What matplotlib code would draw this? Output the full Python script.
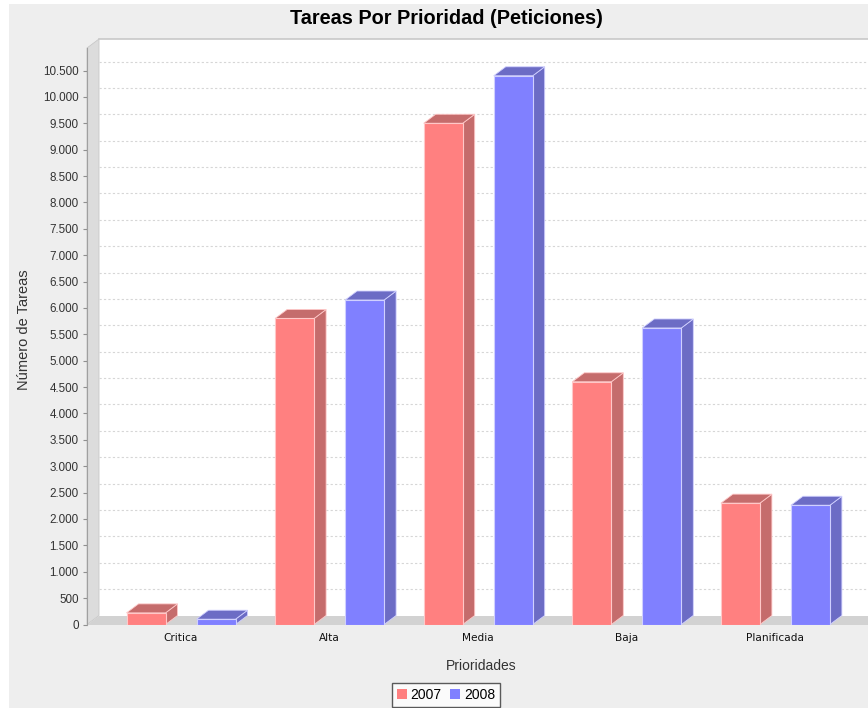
import matplotlib
matplotlib.use("Agg")
import matplotlib.pyplot as plt
from matplotlib.patches import Rectangle, Polygon, Patch
from matplotlib.ticker import FuncFormatter, MultipleLocator

# ---- data ----
categories = ["Critica", "Alta", "Media", "Baja", "Planificada"]
series_names = ["2007", "2008"]
values_2007 = [220, 5800, 9500, 4600, 2300]
values_2008 = [100, 6150, 10400, 5620, 2260]

title = "Tareas Por Prioridad (Peticiones)"
xlabel = "Prioridades"
ylabel = "Número de Tareas"

# ---- styling ----
W, H = 868, 708
DPI = 100
front_colors = ["#FF8080", "#8080FF"]
side_colors = ["#C56C6C", "#6C6CC5"]
edge_colors = ["#FFC8C8", "#D0D0FF"]

fig = plt.figure(figsize=(W / DPI, H / DPI), dpi=DPI, facecolor="white")
# grey chart background
fig.patches.append(Rectangle((9 / W, 0), 1, 1 - 4 / H, transform=fig.transFigure,
                             facecolor="#EEEEEE", edgecolor="none", zorder=-10))

ax_left_px, ax_bottom_px, ax_top_px = 87, 624.5, 48
ax = fig.add_axes([ax_left_px / W, (H - ax_bottom_px) / H,
                   (W - ax_left_px) / W, (ax_bottom_px - ax_top_px) / H])
ax.set_facecolor("none")

ppu = 554 / 10500.0          # pixels per value unit
cat_px = 148.6                # pixels per category
ymax = (ax_bottom_px - ax_top_px) / ppu
x0 = -94 / cat_px
x1 = x0 + (W - ax_left_px) / cat_px
ax.set_xlim(x0, x1)
ax.set_ylim(0, ymax)

dx = 12 / cat_px
dy = 9 / ppu

# back wall
ax.add_patch(Polygon([(x0 + dx, dy), (x1 + dx, dy), (x1 + dx, ymax + dy), (x0 + dx, ymax + dy)],
                     closed=True, facecolor="white", edgecolor="none", clip_on=False, zorder=0))
# top edge line of plot area
ax.plot([x0 + dx, x1 + dx], [ymax + dy, ymax + dy], color="#C8C8C8", lw=1.2,
        clip_on=False, zorder=0.5)
# left wall
ax.add_patch(Polygon([(x0, 0), (x0 + dx, dy), (x0 + dx, ymax + dy), (x0, ymax)],
                     closed=True, facecolor="#DCDCDC", edgecolor="#C8C8C8", lw=0.6,
                     clip_on=False, zorder=0.6))
# floor
ax.add_patch(Polygon([(x0, 0), (x1 + dx, 0), (x1 + dx, dy), (x0 + dx, dy)],
                     closed=True, facecolor="#D2D2D2", edgecolor="none",
                     clip_on=False, zorder=0.6))

# gridlines on back wall
for v in range(500, 11000, 500):
    ax.plot([x0 + dx, x1 + dx], [v + dy, v + dy], color="#D6D6D6", lw=0.8,
            ls=(0, (2, 2)), clip_on=False, zorder=0.7)

# bars
n = len(categories)
xs = list(range(n))
bw = 39 / cat_px
off = 35 / cat_px
series = [values_2007, values_2008]
for si, vals in enumerate(series):
    pos = [x + (-off if si == 0 else off) for x in xs]
    ax.bar(pos, vals, width=bw, color=front_colors[si], edgecolor=edge_colors[si],
           linewidth=0.8, zorder=3)
    for p, v in zip(pos, vals):
        l, r = p - bw / 2, p + bw / 2
        ax.add_patch(Polygon([(r, 0), (r + dx, dy), (r + dx, v + dy), (r, v)], closed=True,
                             facecolor=side_colors[si], edgecolor=edge_colors[si], lw=0.6,
                             zorder=2.9, clip_on=False))
        ax.add_patch(Polygon([(l, v), (r, v), (r + dx, v + dy), (l + dx, v + dy)], closed=True,
                             facecolor=side_colors[si], edgecolor=edge_colors[si], lw=0.6,
                             zorder=2.9, clip_on=False))

# axes styling
for s in ["top", "right", "bottom"]:
    ax.spines[s].set_visible(False)
ax.spines["left"].set_color("#A0A0A0")
ax.spines["left"].set_linewidth(0.8)
ax.spines["left"].set_bounds(0, ymax)

ax.yaxis.set_major_locator(MultipleLocator(500))
ax.yaxis.set_major_formatter(FuncFormatter(lambda v, p: f"{int(round(v)):,}".replace(",", ".")))
ax.tick_params(axis="y", length=3, width=0.8, color="#909090", pad=3,
               labelsize=8.4, labelcolor="#333333")
for lab in ax.get_yticklabels():
    lab.set_family("Liberation Sans")

ax.set_xticks(xs)
ax.set_xticklabels(categories, fontsize=7.6, color="#111111", family="DejaVu Sans")
ax.tick_params(axis="x", length=0, pad=6)

ax.set_xlabel(xlabel, fontsize=10, color="#333333", family="Liberation Sans")
ax.xaxis.set_label_coords((481 - ax_left_px) / (W - ax_left_px), -(659 - ax_bottom_px) / (ax_bottom_px - ax_top_px))
ax.set_ylabel(ylabel, fontsize=10.5, color="#333333", family="Liberation Sans")
ax.yaxis.set_label_coords(-(87 - 31) / (W - ax_left_px), (ax_bottom_px - 330) / (ax_bottom_px - ax_top_px))

fig.text(446 / W, 1 - 19 / H, title, ha="center", va="center", fontsize=14.3,
         fontweight="bold", family="Liberation Sans", color="black")

handles = [Patch(facecolor=front_colors[i], edgecolor="none") for i in range(2)]
leg = fig.legend(handles, series_names, loc="center", bbox_to_anchor=(446 / W, 1 - 695 / H),
                 ncol=2, frameon=True, fancybox=False, handlelength=0.7,
                 handleheight=0.7, handletextpad=0.3, columnspacing=0.6, borderpad=0.35,
                 prop={"family": "Liberation Sans", "size": 10})
leg.get_frame().set_edgecolor("#333333")
leg.get_frame().set_linewidth(1.0)
leg.get_frame().set_facecolor("white")

fig.savefig("out.png", dpi=DPI, facecolor=fig.get_facecolor())
